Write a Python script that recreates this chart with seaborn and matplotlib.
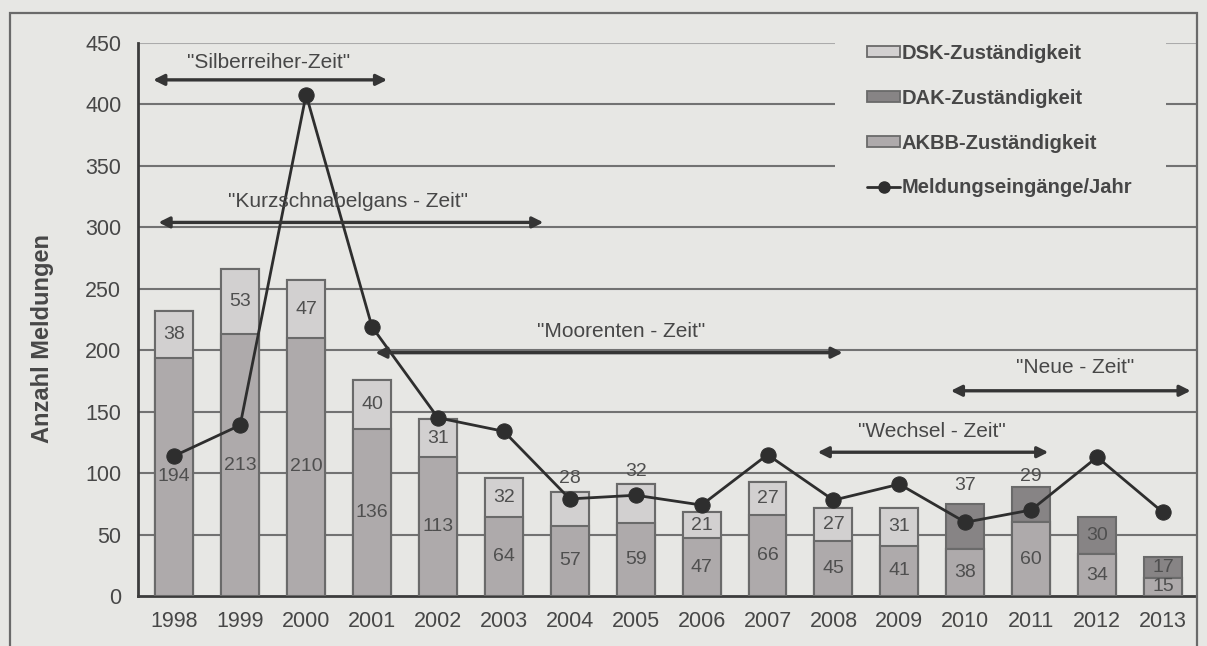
import numpy as np
import matplotlib
matplotlib.use("Agg")
import matplotlib.pyplot as plt
import seaborn as sns
from matplotlib.patches import Patch, Rectangle
from matplotlib.lines import Line2D

# ---------------- data ----------------
years = ["1998", "1999", "2000", "2001", "2002", "2003", "2004", "2005",
         "2006", "2007", "2008", "2009", "2010", "2011", "2012", "2013"]
akbb = [194, 213, 210, 136, 113, 64, 57, 59, 47, 66, 45, 41, 38, 60, 34, 15]
dsk = [38, 53, 47, 40, 31, 32, 28, 32, 21, 27, 27, 31, 0, 0, 0, 0]
dak = [0, 0, 0, 0, 0, 0, 0, 0, 0, 0, 0, 0, 37, 29, 30, 17]
meldungen = [114, 139, 408, 219, 145, 134, 79, 82, 74, 115, 78, 91, 60, 70, 113, 68]

periods = ['"Silberreiher-Zeit"', '"Kurzschnabelgans - Zeit"', '"Moorenten - Zeit"',
           '"Wechsel - Zeit"', '"Neue - Zeit"']
period_start = [-0.32, -0.24, 3.05, 9.76, 11.78]
period_end = [3.23, 5.60, 10.14, 13.26, 15.42]
period_level = [420, 304, 198, 117, 167]

legend_labels = ["DSK-Zuständigkeit", "DAK-Zuständigkeit", "AKBB-Zuständigkeit",
                 "Meldungseingänge/Jahr"]

# ---------------- layout / style ----------------
text_x = [1.43, 2.64, 6.78, 11.50, 13.67]
text_y = [434, 321, 215, 134, 186]
dsk_label_offset = [None] * 16     # None -> centred in segment, number -> points above bar
dsk_label_offset[6] = 3
dsk_label_offset[7] = 3
dak_label_offset = [None] * 16
dak_label_offset[12] = 7
dak_label_offset[13] = 1

BG = "#e7e7e4"
TXT = "#474747"
C_AKBB = "#aeaaab"
C_DSK = "#d2d0d0"
C_DAK = "#878485"
EDGE = "#6a6a6a"
GRID = "#727272"

sns.set_style("white")
plt.rcParams["font.family"] = ["Liberation Sans", "DejaVu Sans"]

W, H = 1207, 646
fig = plt.figure(figsize=(W / 100, H / 100), dpi=100, facecolor=BG)
ax = fig.add_axes([138 / W, (H - 596) / H, (1196 - 138) / W, (596 - 43) / H])
ax.set_facecolor(BG)

n = len(years)
x = np.arange(n)
akbb_a = np.array(akbb)
dsk_a = np.array(dsk)
dak_a = np.array(dak)
tot3 = akbb_a + dsk_a + dak_a
tot2 = akbb_a + dsk_a

bw = 0.575
common = dict(edgecolor=EDGE, linewidth=1.5, width=bw, saturation=1, ax=ax, zorder=3)
sns.barplot(x=years, y=tot3, color=C_DAK, **common)
sns.barplot(x=years, y=tot2, color=C_DSK, **common)
sns.barplot(x=years, y=akbb_a, color=C_AKBB, **common)

sns.lineplot(x=x, y=meldungen, color="#2e2e2e", linewidth=2.0, marker="o",
             markersize=11, markeredgecolor="#2e2e2e", ax=ax, zorder=5)

ax.set_xlim(-0.55, n - 0.5)
ax.set_ylim(0, 450)
ax.set_yticks(np.arange(0, 451, 50))
ax.set_xticks(x)
ax.set_xticklabels(years)
ax.set_xticks(np.arange(0.5, n, 1), minor=True)

# grid
for yv in np.arange(50, 451, 50):
    ax.axhline(yv, color=GRID if yv < 450 else "#ababab", linewidth=1.5, zorder=0.5)

for s in ["top", "right"]:
    ax.spines[s].set_visible(False)
for s in ["left", "bottom"]:
    ax.spines[s].set_color("#3c3c3c")
    ax.spines[s].set_linewidth(2)

ax.tick_params(axis="y", direction="out", length=5, width=1.5, color="#3c3c3c",
               labelsize=15.5, labelcolor=TXT, pad=7)
ax.tick_params(axis="x", which="major", length=0, labelsize=15.5, labelcolor=TXT, pad=11)
ax.tick_params(axis="x", which="minor", direction="out", length=6, width=1.5, color="#3c3c3c")
ax.set_xlabel("")
ax.set_ylabel("Anzahl Meldungen", fontsize=17, fontweight="bold", color=TXT)
ax.yaxis.set_label_coords(-0.079, 0.465)

# bar labels
lab_kw = dict(ha="center", fontsize=14, color="#4f4f4f", zorder=6)
for i in range(n):
    ax.text(i, akbb_a[i] / 2, str(akbb_a[i]), va="center", **lab_kw)
    if dsk_a[i] > 0:
        if dsk_label_offset[i] is not None:
            ax.annotate(str(dsk_a[i]), (i, tot2[i]), xytext=(0, dsk_label_offset[i]),
                        textcoords="offset points", va="bottom", **lab_kw)
        else:
            ax.text(i, akbb_a[i] + dsk_a[i] / 2, str(dsk_a[i]), va="center", **lab_kw)
    if dak_a[i] > 0:
        if dak_label_offset[i] is not None:
            ax.annotate(str(dak_a[i]), (i, tot3[i]), xytext=(0, dak_label_offset[i]),
                        textcoords="offset points", va="bottom", **lab_kw)
        else:
            ax.text(i, tot2[i] + dak_a[i] / 2, str(dak_a[i]), va="center", **lab_kw)

# period arrows
for x0, x1, yv in zip(period_start, period_end, period_level):
    ax.annotate("", xy=(x1, yv), xytext=(x0, yv),
                arrowprops=dict(arrowstyle="<|-|>", color="#353535", lw=2.4,
                                mutation_scale=16, shrinkA=0, shrinkB=0),
                zorder=6, annotation_clip=False)
for lab, tx, ty in zip(periods, text_x, text_y):
    ax.text(tx, ty, lab, ha="center", va="center", fontsize=15, color=TXT, zorder=6)

# legend background (hides gridlines behind legend)
ax.add_patch(Rectangle((10.03, 318), 15.04 - 10.03, 145, facecolor=BG, edgecolor="none",
                       zorder=1, clip_on=False))

handles = [Patch(facecolor=C_DSK, edgecolor=EDGE, linewidth=1.3),
           Patch(facecolor=C_DAK, edgecolor=EDGE, linewidth=1.3),
           Patch(facecolor=C_AKBB, edgecolor=EDGE, linewidth=1.3),
           Line2D([0], [0], color="#2e2e2e", lw=2, marker="o", markersize=8)]
leg = ax.legend(handles, legend_labels, loc="upper left",
                bbox_to_anchor=(867 / W, 1 - 44 / H), bbox_transform=fig.transFigure,
                frameon=False, borderpad=0, borderaxespad=0, handlelength=1.65,
                handleheight=0.45, handletextpad=0.05, labelspacing=1.28,
                prop=dict(size=14.5, weight="bold"))
for t in leg.get_texts():
    t.set_color(TXT)

# outer frame (bottom edge lies below the picture)
fig.patches.append(Rectangle((10 / W, -6 / H), (1197 - 10) / W, (633 + 6) / H,
                             transform=fig.transFigure, fill=False, edgecolor="#6a6a6a",
                             linewidth=1.6, zorder=10))

fig.savefig("out.png", dpi=100, facecolor=BG)
